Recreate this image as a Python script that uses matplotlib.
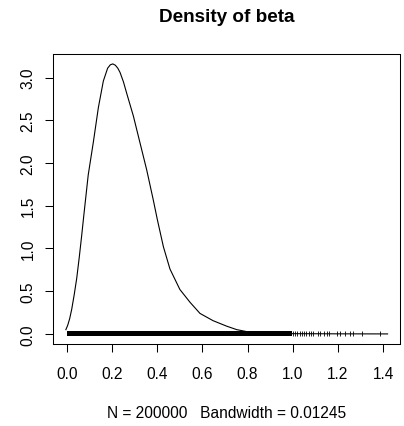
import numpy as np
import matplotlib
matplotlib.use("Agg")
import matplotlib.pyplot as plt

plt.rcParams['font.family'] = ['Liberation Sans', 'DejaVu Sans']

# density curve
dens_x = [-0.005, 0.003, 0.012, 0.021, 0.032, 0.043, 0.054, 0.065, 0.075, 0.094, 0.117,
          0.139, 0.161, 0.18, 0.192, 0.203, 0.214, 0.225, 0.235, 0.25, 0.264, 0.294,
          0.323, 0.353, 0.382, 0.40, 0.427, 0.456, 0.50, 0.545, 0.589, 0.647, 0.708,
          0.752, 0.8, 0.85, 0.9, 1.0, 1.1, 1.2, 1.3, 1.42]
dens_y = [0.05, 0.10, 0.18, 0.29, 0.46, 0.65, 0.89, 1.15, 1.40, 1.86, 2.25,
          2.65, 2.96, 3.11, 3.15, 3.16, 3.145, 3.11, 3.06, 2.95, 2.82, 2.55,
          2.24, 1.92, 1.57, 1.34, 1.02, 0.76, 0.52, 0.37, 0.24, 0.155, 0.09,
          0.05, 0.025, 0.012, 0.007, 0.003, 0.002, 0.001, 0.0005, 0.0]

# rug: solid band where the sample is dense, single ticks where sparse
rug_dense = [0.0, 0.995]
rug_sparse = [1.0, 1.01, 1.02, 1.03, 1.04, 1.05, 1.06, 1.07, 1.08, 1.09, 1.11, 1.12,
              1.14, 1.15, 1.16, 1.195, 1.21, 1.23, 1.254, 1.267, 1.307, 1.387]

n_obs = 200000
bandwidth = 0.01245

fig = plt.figure(figsize=(4.04, 4.27), dpi=100)
ax = fig.add_axes([53 / 404, 1 - 345 / 427, 347 / 404, 290 / 427])

ax.plot(dens_x, dens_y, color="black", lw=0.8)
ax.fill_between(rug_dense, -0.022, 0.032, color="black", lw=0)
ax.vlines(rug_sparse, -0.022, 0.032, color="black", lw=0.6)

ax.set_xlim(-0.062, 1.475)
ax.set_ylim(-0.118, 3.276)
ax.set_xticks([0.0, 0.2, 0.4, 0.6, 0.8, 1.0, 1.2, 1.4])
ax.set_yticks([0.0, 0.5, 1.0, 1.5, 2.0, 2.5, 3.0])
ax.set_xticklabels(["0.0", "0.2", "0.4", "0.6", "0.8", "1.0", "1.2", "1.4"])
ax.set_yticklabels(["0.0", "0.5", "1.0", "1.5", "2.0", "2.5", "3.0"],
                   rotation=90, va="center")
ax.tick_params(axis="both", direction="out", length=5.5, width=0.75,
               labelsize=11.2, colors="black")
ax.tick_params(axis="x", pad=10)
ax.tick_params(axis="y", pad=7)
for s in ax.spines.values():
    s.set_linewidth(0.75)
    s.set_color("black")

fig.text(226.5 / 404, 1 - 17.5 / 427, "Density of beta", ha="center", va="center",
         fontsize=13.6, fontweight="bold")
fig.text(226.5 / 404, 1 - 414 / 427,
         "N = %d   Bandwidth = %s" % (n_obs, bandwidth),
         ha="center", va="center", fontsize=11.2)

fig.savefig("out.png", dpi=100)
